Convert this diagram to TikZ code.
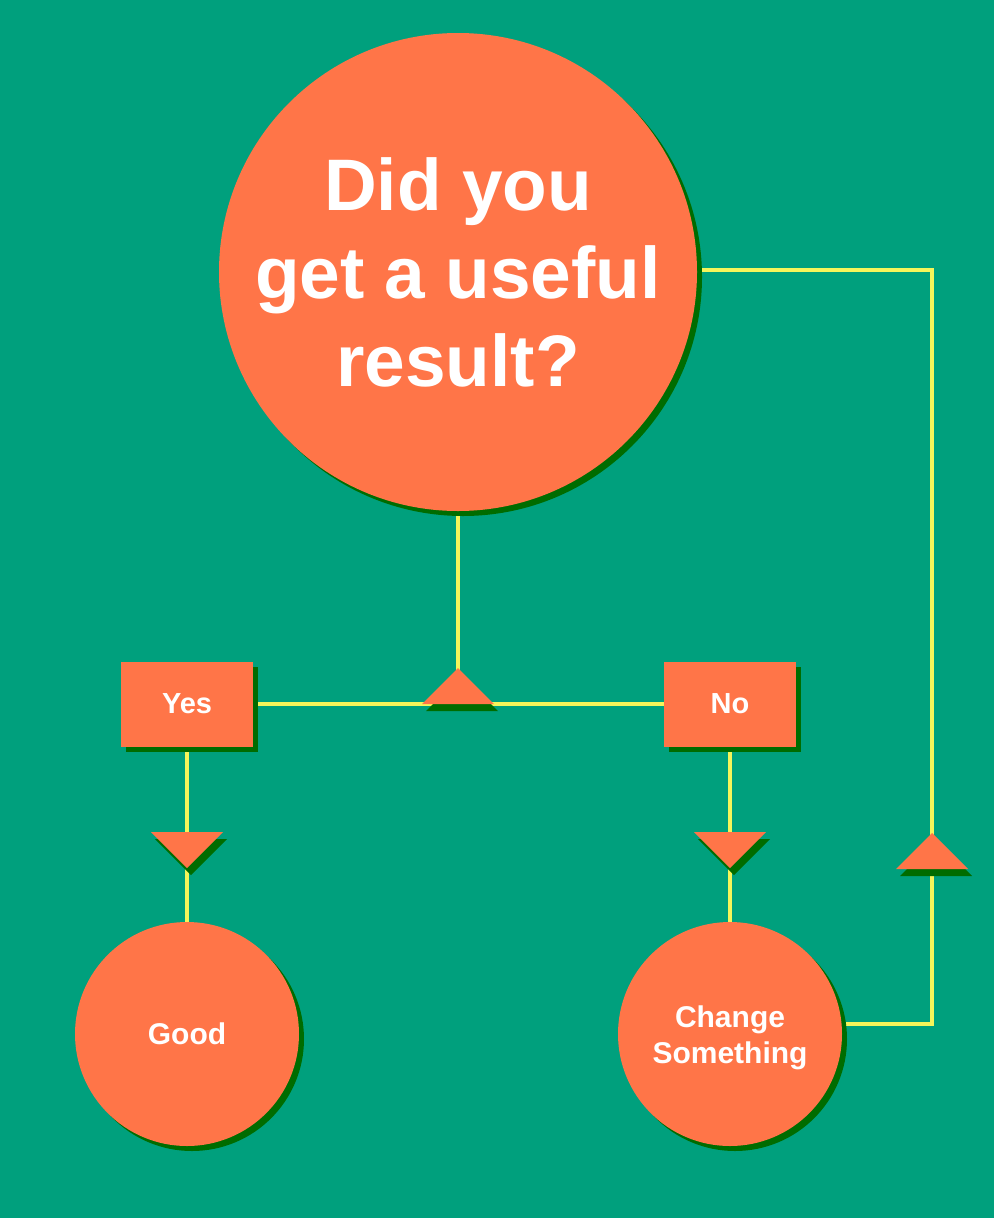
\documentclass[tikz,border=0pt]{standalone}
\usepackage{fontspec}
\setmainfont{Liberation Sans}
\usetikzlibrary{shadows,backgrounds}
\definecolor{bgc}{RGB}{0,160,125}
\definecolor{orc}{RGB}{255,117,72}
\definecolor{shc}{RGB}{0,108,0}
\definecolor{ylc}{RGB}{245,245,90}
\tikzset{
  shad/.style={drop shadow={shadow xshift=5pt, shadow yshift=-5pt, fill=shc, opacity=1}},
  bigcirc/.style={circle, fill=orc, shad, inner sep=0pt, text=white, font=\bfseries, align=center},
  lbox/.style={rectangle, fill=orc, shad, inner sep=0pt, minimum width=132pt, minimum height=85pt, text=white, font=\bfseries\fontsize{29}{34}\selectfont},
  conn/.style={draw=ylc, line width=4pt},
  tridown/.pic={
    \fill[shc] (-32,-11) -- (40,-11) -- (4,25) -- cycle;
    \fill[orc] (-36,-18) -- (36,-18) -- (0,18) -- cycle;
  },
  triup/.pic={
    \fill[shc] (-32,25) -- (40,25) -- (4,-11) -- cycle;
    \fill[orc] (-36,18) -- (36,18) -- (0,-18) -- cycle;
  }
}
\begin{document}
\begin{tikzpicture}[x=1pt,y=-1pt]
\useasboundingbox (0,0) rectangle (994,1218);
\node[bigcirc, minimum size=478pt, font=\bfseries\fontsize{73}{88}\selectfont] (big) at (458,272) {Did you\\get a useful\\result?};
\node[lbox] (yes) at (187,704) {Yes};
\node[lbox] (no) at (730,704) {No};
\node[bigcirc, minimum size=224pt, font=\bfseries\fontsize{30}{36}\selectfont] (good) at (187,1034) {Good};
\node[bigcirc, minimum size=224pt] (chg) at (730,1034) {};
\node[text=white, font=\bfseries\fontsize{30}{36}\selectfont, align=center] (chgt) at (730,1038) {Change\\Something};
\coordinate (j) at (458,704);
\coordinate (rc) at (932,270);
\begin{scope}[on background layer]
  \fill[bgc] (0,0) rectangle (994,1218);
  \draw[conn] (big.south) -- (j);
  \draw[conn] (yes.east) -- (no.west);
  \draw[conn] (yes.south) -- (good.north);
  \draw[conn] (no.south) -- (chg.north);
  \draw[conn] (chg.5) -| (rc) -- (big.east |- rc);
\end{scope}
\pic at (458,686) {triup};
\pic at (187,850) {tridown};
\pic at (730,850) {tridown};
\pic at (932,851) {triup};
\end{tikzpicture}
\end{document}
